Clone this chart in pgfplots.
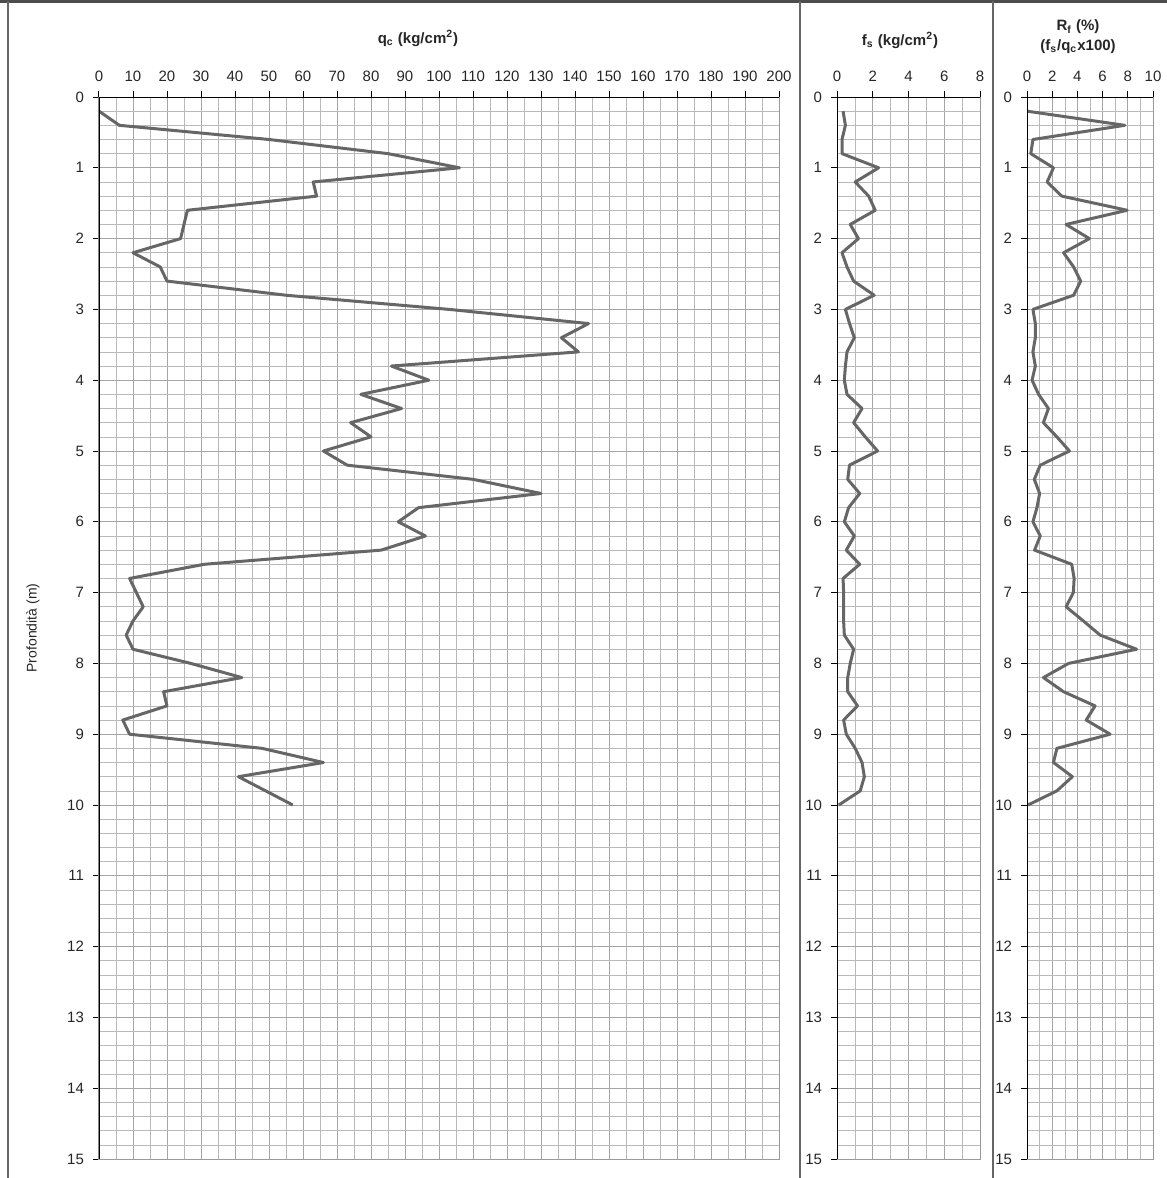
\documentclass[border=0pt]{standalone}
\usepackage{fontspec}
\setmainfont{Liberation Sans}
\usepackage{pgfplots}
\pgfplotsset{compat=1.18}
\usepackage{pgfplotstable}

\pgfplotstableread{
d q
0.2 0
0.4 6
0.6 50
0.8 85
1.0 106
1.2 63
1.4 64
1.6 26
1.8 25
2.0 24
2.2 10
2.4 18
2.6 20
2.8 55
3.0 103
3.2 144
3.4 136
3.6 141
3.8 86
4.0 97
4.2 77
4.4 89
4.6 74
4.8 80
5.0 66
5.2 73
5.4 110
5.6 130
5.8 94
6.0 88
6.2 96
6.4 83
6.6 31
6.8 9
7.0 11
7.2 13
7.4 10
7.6 8
7.8 10
8.0 27
8.2 42
8.4 19
8.6 20
8.8 7
9.0 9
9.2 48
9.4 66
9.6 41
9.8 49
10.0 57
}\qctable

\pgfplotstableread{
d f
0.2 0.34
0.4 0.47
0.6 0.28
0.8 0.28
1.0 2.33
1.2 1.02
1.4 1.77
1.6 2.14
1.8 0.74
2.0 1.2
2.2 0.28
2.4 0.56
2.6 0.93
2.8 2.08
3.0 0.47
3.2 0.7
3.4 0.97
3.6 0.56
3.8 0.47
4.0 0.41
4.2 0.56
4.4 1.4
4.6 0.93
4.8 1.58
5.0 2.27
5.2 0.7
5.4 0.6
5.6 1.27
5.8 0.65
6.0 0.41
6.2 0.97
6.4 0.52
6.6 1.27
6.8 0.34
7.0 0.37
7.2 0.37
7.4 0.37
7.6 0.41
7.8 0.93
8.0 0.74
8.2 0.6
8.4 0.6
8.6 1.15
8.8 0.37
9.0 0.52
9.2 1.02
9.4 1.4
9.6 1.53
9.8 1.3
10.0 0.1
}\fstable

\pgfplotstableread{
d r
0.2 0
0.4 7.76
0.6 0.47
0.8 0.3
1.0 2.1
1.2 1.6
1.4 2.76
1.6 7.95
1.8 3.1
2.0 4.95
2.2 2.9
2.4 3.7
2.6 4.26
2.8 3.7
3.0 0.47
3.2 0.66
3.4 0.66
3.6 0.47
3.8 0.66
4.0 0.4
4.2 0.92
4.4 1.7
4.6 1.3
4.8 2.37
5.0 3.37
5.2 1.05
5.4 0.58
5.6 1.0
5.8 0.79
6.0 0.47
6.2 1.05
6.4 0.6
6.6 3.55
6.8 3.74
7.0 3.68
7.2 3.1
7.4 4.47
7.6 5.8
7.8 8.7
8.0 3.3
8.2 1.3
8.4 2.9
8.6 5.4
8.8 4.7
9.0 6.6
9.2 2.37
9.4 2.1
9.6 3.6
9.8 2.37
10.0 0.08
}\rftable

\pgfplotsset{
  cptaxis/.style={
    scale only axis,
    height=531pt,
    ymin=0, ymax=15,
    y dir=reverse,
    ytick={0,1,...,15},
    minor y tick num=4,
    xtick pos=upper,
    xticklabel pos=upper,
    ytick pos=left,
    yticklabel pos=left,
    tick align=outside,
    major tick length=3pt,
    minor tick length=0pt,
    tick style={black, line width=0.5pt},
    grid=both,
    major grid style={gray!70, line width=0.35pt},
    minor grid style={gray!55, line width=0.3pt},
    axis line style={gray!80, line width=0.5pt},
    tick label style={font=\fontsize{7.5}{8.5}\selectfont, text=black!85},
    /pgf/number format/assume math mode=true,
    xticklabel style={yshift=1pt},
    yticklabel style={xshift=-1pt},
  },
  cptline/.style={color=black!60, line width=1.5pt, line join=round, no markers},
}

\begin{document}
\begin{tikzpicture}
\useasboundingbox (-49.5pt,-9.5pt) rectangle (534pt,579.5pt);
% frame lines
\draw[black!70, line width=2pt] (-49.5pt,579pt) -- (534pt,579pt);
\draw[black!60, line width=0.7pt] (-45.5pt,-9.5pt) -- (-45.5pt,579pt);
\draw[black!60, line width=0.7pt] (350.5pt,-9.5pt) -- (350.5pt,579pt);
\draw[black!60, line width=0.7pt] (447pt,-9.5pt) -- (447pt,579pt);

\begin{axis}[cptaxis,
  at={(0pt,0pt)}, anchor=south west,
  width=340pt,
  xmin=0, xmax=200,
  xtick={0,10,...,200},
  minor x tick num=1,
]
\addplot[cptline] table[x=q, y=d] {\qctable};
\draw[black, line width=0.7pt] (rel axis cs:0,1) -- (rel axis cs:1,1);
\draw[black, line width=1.4pt] (rel axis cs:0,0) -- (rel axis cs:0,1);
\end{axis}

\begin{axis}[cptaxis,
  at={(369pt,0pt)}, anchor=south west,
  width=71.5pt,
  xmin=0, xmax=8,
  xtick={0,2,...,8},
  minor x tick num=1,
]
\addplot[cptline] table[x=f, y=d] {\fstable};
\draw[black, line width=0.7pt] (rel axis cs:0,1) -- (rel axis cs:1,1);
\draw[black, line width=1.4pt] (rel axis cs:0,0) -- (rel axis cs:0,1);
\end{axis}

\begin{axis}[cptaxis,
  at={(464pt,0pt)}, anchor=south west,
  width=63pt,
  xmin=0, xmax=10,
  xtick={0,2,...,10},
  minor x tick num=1,
]
\addplot[cptline] table[x=r, y=d] {\rftable};
\draw[black, line width=0.7pt] (rel axis cs:0,1) -- (rel axis cs:1,1);
\draw[black, line width=1.4pt] (rel axis cs:0,0) -- (rel axis cs:0,1);
\end{axis}

% titles
\node[font=\bfseries\fontsize{7.5}{9}\selectfont, text=black!85] at (159.5pt,560.5pt) {q\textsubscript{c} (kg/cm\textsuperscript{2})};
\node[font=\bfseries\fontsize{7.5}{9}\selectfont, text=black!85] at (400.5pt,559.5pt) {f\textsubscript{s} (kg/cm\textsuperscript{2})};
\node[font=\bfseries\fontsize{7.5}{9}\selectfont, text=black!85] at (489.5pt,566pt) {R\textsubscript{f} (\%)};
\node[font=\bfseries\fontsize{7.5}{9}\selectfont, text=black!85] at (489.5pt,556pt) {(f\textsubscript{s}/q\textsubscript{c}x100)};
\node[rotate=90, font=\fontsize{7}{8}\selectfont, text=black!85] at (-33pt,265.5pt) {Profondità (m)};
\end{tikzpicture}
\end{document}
